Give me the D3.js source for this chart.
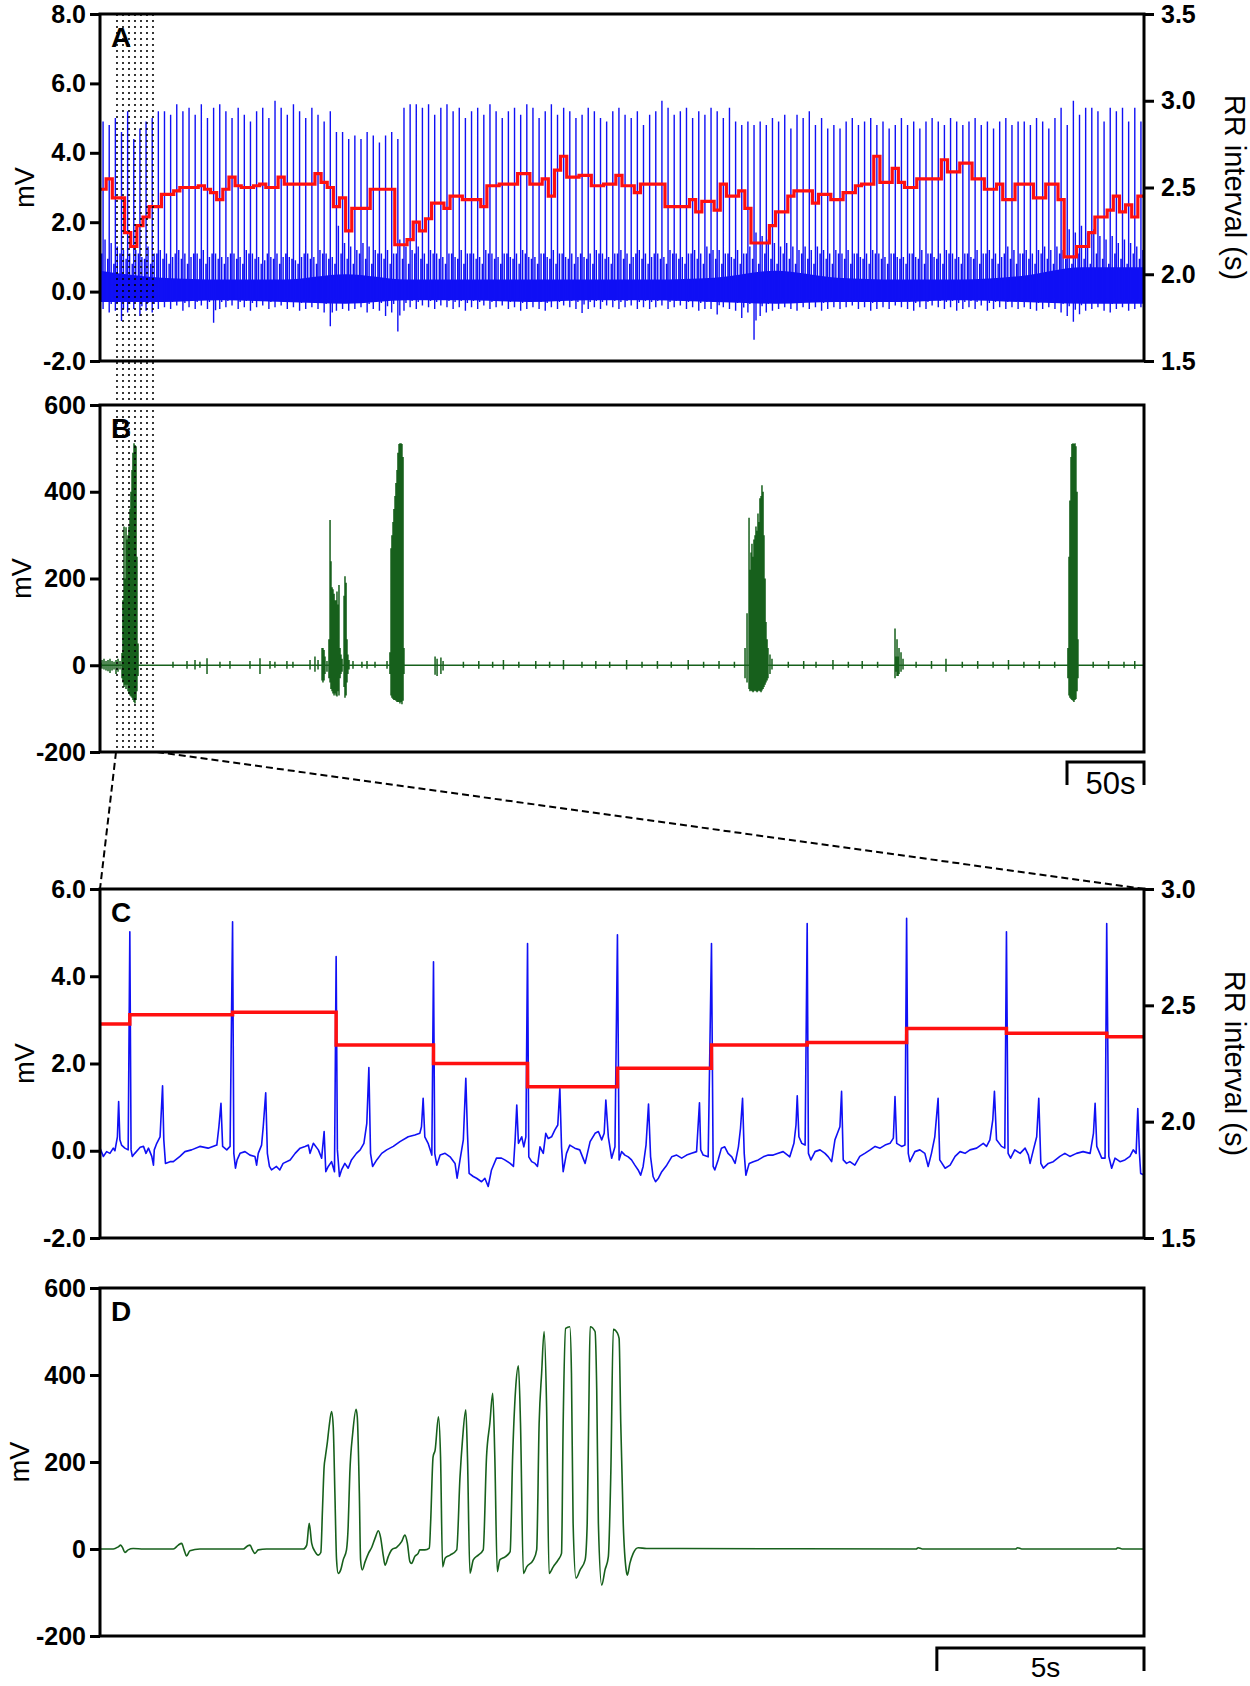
<!DOCTYPE html>
<html>
<head>
<meta charset="utf-8">
<script src="https://cdn.jsdelivr.net/npm/d3@7"></script>
<style>
  body { margin: 0; background: #fff; }
  svg text { font-family: "Liberation Sans", Arial, sans-serif; }
</style>
</head>
<body>
<script>
// ---- panel A: long ECG record, one entry per beat (mV) and RR interval (s)
const aPeak = [
  4.9, 4.8, 5.0, 4.6, 5.2, 4.4, 4.7, 4.9, 5.0, 5.2,
  5.2, 5.1, 5.4, 5.2, 5.3, 5.1, 5.4, 5.0, 5.3, 5.4,
  5.2, 5.0, 5.3, 5.1, 4.9, 5.2, 5.3, 5.0, 5.5, 5.3,
  5.1, 5.4, 5.2, 5.0, 5.3, 5.1, 4.9, 5.2, 4.6, 4.6,
  4.4, 4.5, 4.4, 4.6, 4.5, 4.3, 4.5, 4.6, 4.4, 5.3,
  5.4, 5.4, 5.3, 5.4, 5.1, 5.3, 5.4, 5.2, 5.3, 5.0,
  5.2, 5.3, 5.1, 5.4, 5.2, 5.0, 5.2, 5.3, 5.1, 5.4,
  5.3, 5.0, 5.2, 5.4, 5.1, 5.3, 5.2, 5.0, 5.1, 5.3,
  5.2, 5.0, 4.9, 5.2, 5.3, 5.1, 5.0, 5.2, 4.8, 5.1,
  5.2, 5.5, 5.3, 5.1, 5.2, 5.3, 5.0, 5.2, 5.1, 5.3,
  5.2, 5.0, 5.3, 4.9, 4.8, 4.9, 4.8, 4.9, 4.8, 5.0,
  4.9, 5.1, 4.7, 5.1, 5.0, 5.2, 4.8, 5.0, 4.7, 4.8,
  4.7, 4.9, 5.0, 4.8, 4.9, 5.0, 4.8, 4.9, 4.7, 4.8,
  5.0, 4.8, 4.9, 4.7, 4.9, 5.0, 4.9, 4.8, 5.0, 4.9,
  4.8, 4.9, 5.0, 4.8, 4.9, 4.7, 4.9, 5.0, 4.8, 4.9,
  4.9, 4.8, 5.0, 4.9, 4.7, 5.0, 5.3, 4.8, 5.5, 5.1,
  5.3, 5.3, 5.2, 4.9, 5.3, 5.2, 5.3, 4.9, 5.3, 4.9
]
const aTrough = [
  -0.5, -0.6, -0.55, -0.85, -0.6, -0.5, -0.7, -0.55, -0.6, -0.5,
  -0.45, -0.5, -0.4, -0.55, -0.45, -0.5, -0.4, -0.5, -0.9, -0.5,
  -0.45, -0.4, -0.5, -0.45, -0.55, -0.45, -0.4, -0.5, -0.45, -0.4,
  -0.5, -0.45, -0.55, -0.5, -0.45, -0.5, -0.6, -1.0, -0.55, -0.5,
  -0.55, -0.5, -0.45, -0.6, -0.5, -0.55, -0.7, -0.6, -1.15, -0.55,
  -0.45, -0.5, -0.4, -0.45, -0.5, -0.4, -0.45, -0.5, -0.45, -0.55,
  -0.45, -0.5, -0.4, -0.5, -0.45, -0.4, -0.5, -0.45, -0.55, -0.5,
  -0.45, -0.5, -0.55, -0.45, -0.5, -0.4, -0.45, -0.5, -0.62, -0.5,
  -0.45, -0.5, -0.4, -0.45, -0.5, -0.45, -0.4, -0.5, -0.45, -0.5,
  -0.45, -0.4, -0.5, -0.45, -0.4, -0.5, -0.45, -0.55, -0.5, -0.5,
  -0.66, -0.45, -0.5, -0.55, -0.76, -0.6, -1.39, -0.7, -0.6, -0.55,
  -0.5, -0.45, -0.5, -0.55, -0.45, -0.5, -0.45, -0.55, -0.5, -0.45,
  -0.5, -0.45, -0.4, -0.5, -0.45, -0.55, -0.5, -0.45, -0.5, -0.4,
  -0.45, -0.5, -0.55, -0.45, -0.5, -0.4, -0.45, -0.5, -0.45, -0.55,
  -0.5, -0.45, -0.5, -0.4, -0.55, -0.5, -0.45, -0.5, -0.45, -0.5,
  -0.45, -0.5, -0.55, -0.5, -0.45, -0.5, -0.6, -0.7, -0.87, -0.65,
  -0.55, -0.5, -0.45, -0.55, -0.6, -0.5, -0.45, -0.55, -0.5, -0.45
]
const aT = [
  1.5, 1.4, 1.3, 1.2, 1.1, 1.2, 1.0, 1.3, 1.1, 1.2,
  1.1, 1.0, 1.2, 1.1, 1.0, 1.1, 1.2, 1.0, 1.1, 1.0,
  1.0, 1.1, 1.0, 1.2, 1.1, 1.0, 0.9, 1.0, 1.1, 1.0,
  1.0, 0.9, 1.0, 1.1, 1.0, 1.2, 1.1, 1.0, 1.9, 1.4,
  1.3, 1.2, 1.4, 1.3, 1.2, 1.1, 1.2, 1.1, 1.5, 1.3,
  1.2, 1.3, 1.1, 1.2, 1.1, 1.0, 1.1, 1.0, 1.2, 1.1,
  1.1, 1.0, 1.2, 1.1, 1.0, 1.1, 1.0, 1.1, 1.2, 1.0,
  1.0, 1.1, 1.0, 1.2, 1.1, 1.0, 1.1, 1.0, 1.0, 1.1,
  1.2, 1.1, 1.0, 1.1, 1.2, 1.1, 1.0, 1.2, 1.1, 1.0,
  1.1, 1.0, 1.2, 1.1, 1.0, 1.1, 1.2, 1.1, 1.3, 1.2,
  1.2, 1.1, 1.0, 1.2, 1.1, 1.3, 1.7, 1.6, 1.5, 1.4,
  1.3, 1.4, 1.3, 1.2, 1.3, 1.2, 1.3, 1.2, 1.1, 1.2,
  1.1, 1.2, 1.1, 1.0, 1.1, 1.2, 1.1, 1.0, 1.1, 1.0,
  1.0, 1.1, 1.0, 1.2, 1.1, 1.0, 1.1, 1.2, 1.1, 1.0,
  1.1, 1.0, 1.2, 1.1, 1.2, 1.1, 1.0, 1.3, 1.2, 1.1,
  1.2, 1.1, 1.2, 1.3, 1.2, 1.3, 1.2, 1.8, 1.7, 1.9,
  1.7, 1.8, 1.6, 1.5, 1.6, 1.4, 1.5, 1.4, 1.3, 1.2
]
const aRR = [
  2.49, 2.55, 2.44, 2.44, 2.24, 2.16, 2.28, 2.33, 2.39, 2.39,
  2.46, 2.46, 2.48, 2.50, 2.50, 2.50, 2.51, 2.49, 2.47, 2.43,
  2.49, 2.56, 2.51, 2.50, 2.50, 2.51, 2.52, 2.50, 2.50, 2.56,
  2.52, 2.52, 2.52, 2.52, 2.52, 2.58, 2.53, 2.50, 2.39, 2.44,
  2.25, 2.38, 2.38, 2.38, 2.49, 2.49, 2.49, 2.49, 2.17, 2.17,
  2.20, 2.30, 2.25, 2.32, 2.41, 2.41, 2.38, 2.45, 2.45, 2.43,
  2.43, 2.43, 2.39, 2.51, 2.51, 2.52, 2.52, 2.52, 2.58, 2.58,
  2.52, 2.52, 2.55, 2.45, 2.60, 2.68, 2.56, 2.56, 2.57, 2.57,
  2.51, 2.51, 2.52, 2.52, 2.57, 2.51, 2.51, 2.47, 2.52, 2.52,
  2.52, 2.52, 2.39, 2.39, 2.39, 2.39, 2.43, 2.36, 2.42, 2.42,
  2.37, 2.52, 2.45, 2.45, 2.48, 2.38, 2.18, 2.18, 2.18, 2.28,
  2.36, 2.36, 2.45, 2.48, 2.48, 2.48, 2.41, 2.46, 2.46, 2.43,
  2.43, 2.47, 2.47, 2.51, 2.52, 2.52, 2.68, 2.53, 2.53, 2.61,
  2.53, 2.50, 2.50, 2.55, 2.55, 2.55, 2.55, 2.66, 2.59, 2.59,
  2.64, 2.64, 2.55, 2.55, 2.49, 2.49, 2.52, 2.43, 2.43, 2.52,
  2.52, 2.52, 2.44, 2.44, 2.52, 2.52, 2.43, 2.10, 2.10, 2.16,
  2.16, 2.24, 2.33, 2.33, 2.37, 2.45, 2.36, 2.40, 2.33, 2.45
]
// dense low-amplitude band, one value per 10 beats
const aBandHi = [0.6, 0.4, 0.35, 0.35, 0.5, 0.35, 0.35, 0.35, 0.35, 0.35, 0.4, 0.6, 0.4, 0.35, 0.35, 0.45, 0.7]
const aBandLo = [-0.3, -0.3, -0.25, -0.3, -0.35, -0.25, -0.25, -0.3, -0.25, -0.25, -0.3, -0.35, -0.3, -0.3, -0.25, -0.3, -0.35]
const aPwave = 1.1

// ---- panel B: [time s, high mV, low mV] of each deflection
const bDuration = 678
const bSpikes = [
  [0.3, 6, -5], [1.3, 12, -8], [2.6, 15, -10], [3.9, 10, -12], [5.2, 12, -14], [6.5, 15, -18],
  [7.8, 10, -12], [9.1, 8, -10], [10.4, 12, -20], [11.7, 15, -15], [13.0, 10, -10], [14.3, 28, -30],
  [14.9, 150, -40], [15.6, 320, -50], [16.2, 200, -45], [16.9, 318, -55], [17.5, 290, -45],
  [18.2, 300, -60], [18.8, 320, -65], [19.5, 360, -70], [20.1, 400, -72], [20.8, 450, -75],
  [21.4, 490, -80], [22.1, 512, -85], [22.7, 508, -88], [23.4, 505, -80], [24.0, 250, -60], [24.7, 50, -25],
  [47.4, 8, -6], [56.5, 10, -8], [61.7, 12, -10], [64.9, 8, -6], [69.5, 16, -20], [77.9, 8, -6],
  [84.4, 10, -8], [97.4, 10, -8], [103.9, 16, -20], [110.4, 10, -8], [113.6, 8, -6], [121.4, 10, -8],
  [125.3, 8, -6], [136.4, 12, -10], [139.6, 20, -15], [141.6, 12, -10],
  [144.2, 40, -35], [144.8, 40, -40], [145.5, 35, -35], [146.1, 20, -20], [147.4, 10, -15], [148.7, 60, -30],
  [149.4, 335, -40], [150.0, 240, -55], [150.7, 180, -60], [151.3, 175, -65], [152.0, 165, -70],
  [152.6, 150, -65], [153.3, 150, -70], [153.9, 170, -72], [154.6, 140, -60], [155.2, 185, -70],
  [155.9, 40, -30], [156.5, 25, -20], [157.2, 15, -15],
  [158.5, 160, -50], [159.1, 205, -75], [159.8, 190, -70], [160.4, 60, -40], [161.0, 25, -20], [161.7, 12, -10],
  [164.3, 10, -8], [170.1, 8, -6], [173.4, 10, -8], [178.6, 8, -6], [186.4, 10, -8],
  [188.3, 30, -20], [189.0, 270, -70], [189.6, 300, -75], [190.3, 330, -78], [190.9, 360, -80],
  [191.6, 390, -80], [192.2, 420, -82], [192.9, 450, -85], [193.5, 490, -85], [194.2, 510, -85],
  [194.8, 512, -88], [195.5, 512, -85], [196.1, 510, -90], [196.8, 480, -82], [197.4, 40, -20],
  [217.6, 20, -22], [218.9, 15, -25], [221.4, 18, -20], [222.8, 10, -12],
  [236, 8, -6], [246, 10, -8], [255, 8, -6], [262, 12, -10], [272, 8, -6], [283, 10, -8], [292, 8, -6],
  [301, 12, -10], [313, 8, -6], [322, 10, -8], [331, 8, -6], [342, 12, -10], [352, 8, -6], [362, 10, -8],
  [371, 8, -6], [382, 12, -10], [392, 8, -6], [402, 10, -8], [412, 8, -6],
  [418.9, 40, -30], [420.2, 120, -40], [421.5, 340, -55], [422.1, 220, -60], [422.8, 260, -58],
  [423.4, 280, -60], [424.1, 250, -62], [424.7, 290, -60], [425.4, 300, -58], [426.0, 320, -60],
  [426.7, 310, -62], [427.3, 350, -60], [428.0, 330, -58], [428.6, 385, -60], [429.3, 390, -62],
  [429.9, 415, -58], [430.6, 400, -55], [431.2, 300, -50], [431.9, 200, -45], [432.5, 100, -40],
  [433.2, 60, -35], [433.8, 40, -30], [435.1, 25, -20], [436.4, 15, -10],
  [447, 8, -6], [457, 10, -8], [465, 8, -6], [476, 12, -10], [486, 8, -6], [495, 10, -8], [505, 8, -6],
  [516.3, 85, -30], [517.0, 20, -15], [517.6, 60, -25], [518.3, 20, -25], [518.9, 40, -20],
  [520.2, 30, -15], [521.5, 15, -10],
  [530, 8, -6], [540, 10, -8], [549.4, 15, -15], [560, 8, -6], [570, 10, -8], [580, 8, -6],
  [590, 12, -10], [600, 8, -6], [610, 10, -8], [620, 8, -6],
  [628.6, 40, -30], [629.3, 250, -70], [629.9, 380, -75], [630.6, 480, -78], [631.2, 510, -80],
  [631.9, 512, -82], [632.5, 510, -85], [633.2, 512, -80], [633.8, 505, -78], [634.5, 400, -60], [635.1, 60, -30],
  [645, 8, -6], [655, 10, -8], [665, 8, -6], [672, 10, -8]
]
const bWindow = [10.4, 37.0]   // stretch shown in C and D
const bScaleBar = 50

// ---- panel C: [time s, mV] of the ECG, RR steps at each R wave
const cDuration = 25.2
const cTrace = [
  [0, 0.06], [0.08, -0.13], [0.16, -0.02], [0.24, -0.06], [0.32, 0.06], [0.36, 0.0], [0.42, 0.32],
  [0.45, 1.13], [0.48, 0.25], [0.52, 0.13], [0.60, 0.06], [0.68, 0.02], [0.72, 5.02], [0.75, 0.02],
  [0.78, -0.13], [0.84, -0.06], [0.97, 0.08], [1.05, 0.10], [1.11, -0.06], [1.17, 0.06], [1.25, -0.13],
  [1.29, -0.33], [1.31, 0.02], [1.37, 0.17], [1.45, 0.32], [1.51, 1.49], [1.54, 0.25], [1.58, -0.29],
  [1.69, -0.25], [1.77, -0.25], [1.93, -0.13], [2.05, -0.02], [2.21, 0.02], [2.41, 0.10], [2.61, 0.06],
  [2.82, 0.13], [2.87, 0.55], [2.92, 1.09], [2.96, 0.10], [3.06, 0.02], [3.14, 0.10], [3.20, 5.25],
  [3.23, -0.06], [3.27, -0.40], [3.31, -0.21], [3.38, -0.06], [3.50, -0.02], [3.62, -0.10], [3.74, -0.13],
  [3.78, -0.33], [3.82, -0.06], [3.90, 0.13], [3.94, 0.55], [4.00, 1.33], [4.04, -0.06], [4.09, -0.36],
  [4.14, -0.44], [4.26, -0.36], [4.34, -0.44], [4.42, -0.29], [4.59, -0.21], [4.71, -0.06], [4.83, 0.06],
  [4.95, 0.10], [5.03, 0.13], [5.07, -0.06], [5.15, 0.17], [5.27, 0.02], [5.35, -0.17], [5.41, 0.44],
  [5.45, -0.48], [5.51, -0.36], [5.59, -0.25], [5.66, -0.48], [5.70, 4.45], [5.73, 0.02], [5.78, -0.59],
  [5.83, -0.44], [5.91, -0.29], [5.99, -0.40], [6.07, -0.21], [6.19, -0.06], [6.28, 0.02], [6.37, 0.17],
  [6.44, 0.63], [6.49, 1.91], [6.53, -0.06], [6.58, -0.36], [6.68, -0.21], [6.80, -0.06], [6.92, 0.02],
  [7.08, 0.10], [7.24, 0.21], [7.44, 0.32], [7.60, 0.36], [7.72, 0.40], [7.76, 0.55], [7.80, 1.20],
  [7.84, 0.32], [7.92, 0.17], [8.01, -0.10], [8.05, 4.33], [8.08, -0.06], [8.13, -0.33], [8.21, -0.10],
  [8.33, -0.06], [8.45, -0.14], [8.57, -0.29], [8.62, -0.63], [8.69, -0.21], [8.77, 0.25], [8.83, 1.66],
  [8.87, 0.40], [8.91, -0.52], [9.01, -0.59], [9.09, -0.63], [9.21, -0.71], [9.29, -0.63], [9.37, -0.82],
  [9.45, -0.44], [9.57, -0.17], [9.69, -0.17], [9.77, -0.21], [9.90, -0.29], [9.98, -0.36], [10.02, 0.25],
  [10.06, 1.05], [10.10, 0.17], [10.18, 0.32], [10.23, 0.09], [10.28, 0.32], [10.32, 4.75], [10.35, -0.14],
  [10.42, -0.25], [10.50, -0.29], [10.56, -0.36], [10.62, 0.09], [10.70, -0.06], [10.76, 0.40], [10.82, 0.28],
  [10.90, 0.32], [10.98, 0.48], [11.05, 0.59], [11.10, 1.43], [11.14, 0.09], [11.18, -0.48], [11.26, -0.06],
  [11.34, 0.13], [11.46, 0.06], [11.58, 0.02], [11.71, -0.29], [11.83, 0.21], [11.95, 0.40], [12.03, 0.44],
  [12.11, 0.25], [12.17, 0.40], [12.21, 1.16], [12.27, 0.32], [12.35, -0.17], [12.43, 0.09], [12.49, 4.95],
  [12.53, -0.21], [12.59, -0.02], [12.67, -0.10], [12.75, -0.14], [12.83, -0.21], [12.91, -0.33], [12.99, -0.44],
  [13.05, -0.56], [13.11, -0.36], [13.18, 0.13], [13.24, 1.07], [13.29, -0.14], [13.35, -0.59], [13.41, -0.71],
  [13.48, -0.63], [13.56, -0.48], [13.68, -0.33], [13.80, -0.14], [13.92, -0.10], [14.04, -0.17], [14.16, -0.10],
  [14.28, -0.06], [14.40, -0.02], [14.47, 1.10], [14.50, 0.02], [14.56, -0.10], [14.68, -0.14], [14.76, 4.75],
  [14.80, -0.36], [14.84, -0.44], [14.92, -0.21], [15.00, 0.06], [15.08, 0.09], [15.16, -0.06], [15.25, -0.14],
  [15.33, -0.29], [15.41, 0.09], [15.46, 0.51], [15.51, 1.20], [15.55, -0.06], [15.59, -0.56], [15.67, -0.29],
  [15.77, -0.25], [15.89, -0.21], [16.01, -0.14], [16.13, -0.10], [16.25, -0.10], [16.37, -0.06], [16.49, -0.02],
  [16.65, -0.14], [16.75, 0.17], [16.80, 0.59], [16.83, 1.26], [16.87, 0.32], [16.94, 0.17], [17.02, 0.13],
  [17.07, 5.21], [17.10, -0.06], [17.16, -0.21], [17.26, -0.02], [17.38, 0.02], [17.50, -0.06], [17.58, -0.14],
  [17.66, -0.25], [17.74, 0.25], [17.80, 0.40], [17.86, 0.55], [17.90, 1.36], [17.94, -0.21], [18.02, -0.29],
  [18.10, -0.25], [18.22, -0.33], [18.34, -0.13], [18.46, -0.06], [18.59, 0.02], [18.71, 0.10], [18.83, 0.06],
  [18.95, 0.13], [19.07, 0.17], [19.15, 0.29], [19.19, 1.24], [19.23, 0.17], [19.35, 0.10], [19.43, 0.13],
  [19.47, 5.33], [19.51, -0.06], [19.55, -0.25], [19.67, -0.02], [19.79, 0.02], [19.91, -0.06], [19.99, -0.36],
  [20.07, -0.06], [20.15, 0.32], [20.23, 1.20], [20.27, -0.21], [20.40, -0.40], [20.52, -0.33], [20.64, -0.13],
  [20.76, -0.02], [20.88, -0.06], [21.00, 0.02], [21.16, 0.06], [21.32, 0.17], [21.40, 0.10], [21.48, 0.25],
  [21.55, 0.71], [21.59, 1.36], [21.64, 0.25], [21.76, 0.10], [21.84, 0.06], [21.88, 5.02], [21.92, -0.06],
  [21.98, -0.17], [22.08, 0.02], [22.21, -0.06], [22.33, 0.06], [22.41, -0.10], [22.45, -0.29], [22.53, 0.02],
  [22.61, 0.32], [22.66, 1.20], [22.71, -0.29], [22.77, -0.40], [22.89, -0.29], [23.01, -0.25], [23.17, -0.13],
  [23.29, -0.06], [23.41, -0.13], [23.57, -0.06], [23.73, -0.02], [23.90, -0.06], [23.98, 0.40], [24.02, 1.09],
  [24.06, 0.10], [24.18, -0.17], [24.26, -0.17], [24.30, 5.21], [24.35, -0.13], [24.42, -0.40], [24.50, -0.17],
  [24.62, -0.25], [24.74, -0.21], [24.86, -0.13], [24.94, 0.02], [25.01, -0.06], [25.05, 0.97], [25.09, -0.06],
  [25.12, -0.52], [25.19, -0.55]
]
const cBeatT = [0.72, 3.20, 5.70, 8.05, 10.32, 12.49, 14.76, 17.07, 19.47, 21.88, 24.30]
const cRR = [2.42, 2.46, 2.47, 2.33, 2.25, 2.15, 2.23, 2.33, 2.34, 2.40, 2.38, 2.365]

// ---- panel D: [time s, mV], same window as C
const dTrace = [
  [0, 0], [0.32, 0], [0.44, 5], [0.50, 9], [0.55, 2], [0.60, -8], [0.68, -2], [0.80, 1], [1.05, 0],
  [1.77, 0], [1.89, 9], [1.97, 13], [2.03, -2], [2.09, -16], [2.17, -4], [2.41, 0], [3.46, 0], [3.56, 7],
  [3.62, 9], [3.68, -2], [3.74, -10], [3.82, -2], [4.02, 0], [4.91, 0], [4.99, 9], [5.05, 59], [5.11, 13],
  [5.19, -6], [5.27, -14], [5.33, -8], [5.37, 90], [5.41, 189], [5.44, 212], [5.49, 247], [5.53, 281],
  [5.59, 316], [5.63, 281], [5.67, 128], [5.71, -25], [5.75, -56], [5.81, -48], [5.87, -25], [5.95, -2],
  [5.99, 51], [6.03, 174], [6.10, 266], [6.18, 321], [6.21, 304], [6.26, 128], [6.29, -25], [6.33, -48],
  [6.40, -29], [6.48, -10], [6.56, 4], [6.64, 25], [6.72, 42], [6.77, 28], [6.84, -17], [6.88, -37],
  [6.96, -17], [7.04, -2], [7.16, 4], [7.28, 17], [7.36, 32], [7.42, 13], [7.48, -29], [7.52, -33],
  [7.60, -17], [7.68, -10], [7.72, -2], [7.84, -2], [7.95, 2], [7.98, 59], [8.04, 212], [8.09, 228],
  [8.17, 304], [8.22, 212], [8.27, -41], [8.33, -21], [8.45, -14], [8.61, -2], [8.69, 166], [8.75, 251],
  [8.83, 320], [8.87, 212], [8.93, -56], [9.01, -25], [9.13, -14], [9.25, -2], [9.33, 212], [9.41, 289],
  [9.48, 358], [9.53, 212], [9.59, -52], [9.65, -25], [9.78, -18], [9.90, -6], [9.96, 212], [10.03, 365],
  [10.10, 421], [10.15, 289], [10.22, -56], [10.30, -41], [10.46, -25], [10.54, -2], [10.60, 289],
  [10.66, 404], [10.72, 500], [10.78, 327], [10.84, -56], [10.94, -41], [11.06, -25], [11.14, -10],
  [11.18, 289], [11.24, 507], [11.34, 511], [11.38, 404], [11.42, 59], [11.49, -67], [11.59, -48],
  [11.71, -25], [11.76, 59], [11.80, 327], [11.83, 511], [11.95, 500], [11.99, 365], [12.03, 59],
  [12.11, -83], [12.19, -48], [12.27, -18], [12.33, 174], [12.39, 505], [12.49, 496], [12.53, 484],
  [12.57, 289], [12.63, 59], [12.70, -48], [12.73, -60], [12.79, -33], [12.87, -10], [12.99, 3],
  [13.19, 1], [14.0, 1], [19.70, 0], [19.75, 3], [19.85, 0], [22.10, 0], [22.15, 3], [22.25, 0],
  [24.52, 0], [24.57, 3], [24.67, 0], [25.2, 0]
]
const dScaleBar = 5

// ---- layout
const W = 1250, H = 1686
const left = 100, right = 1144
const pA = { top: 14, bottom: 361 }
const pB = { top: 405, bottom: 752 }
const pC = { top: 889, bottom: 1238 }
const pD = { top: 1288, bottom: 1636 }
const blue = '#1010f5', red = '#ff1010', green = '#17601c'

const svg = d3.select('body').append('svg')
  .attr('width', W)
  .attr('height', H)

svg.append('defs').append('pattern')
  .attr('id', 'dots')
  .attr('patternUnits', 'userSpaceOnUse')
  .attr('x', 114).attr('y', 12)
  .attr('width', 6).attr('height', 6)
  .append('circle')
  .attr('cx', 3).attr('cy', 3).attr('r', 1.05)
  .attr('fill', '#000')

function styleAxis(g) {
  g.select('.domain').remove()
  g.selectAll('.tick line').attr('stroke', '#000').attr('stroke-width', 3)
  g.selectAll('.tick text')
    .attr('font-size', 25)
    .attr('font-weight', 'bold')
    .attr('fill', '#000')
}

function leftAxis(scale, ticks, fmt) {
  svg.append('g')
    .attr('transform', 'translate(' + left + ',0)')
    .call(d3.axisLeft(scale).tickValues(ticks).tickFormat(fmt).tickSize(10).tickPadding(4))
    .call(styleAxis)
}

function rightAxis(scale, ticks, fmt) {
  svg.append('g')
    .attr('transform', 'translate(' + right + ',0)')
    .call(d3.axisRight(scale).tickValues(ticks).tickFormat(fmt).tickSize(10).tickPadding(7))
    .call(styleAxis)
}

function box(p) {
  svg.append('rect')
    .attr('x', left).attr('y', p.top)
    .attr('width', right - left).attr('height', p.bottom - p.top)
    .attr('fill', 'none').attr('stroke', '#000').attr('stroke-width', 3)
}

function panelLabel(p, txt) {
  svg.append('text')
    .attr('x', left + 11).attr('y', p.top + 33)
    .attr('font-size', 28).attr('font-weight', 'bold')
    .text(txt)
}

function mvLabel(p, x) {
  svg.append('text')
    .attr('transform', 'translate(' + x + ',' + (p.top + p.bottom) / 2 + ')rotate(-90)')
    .attr('text-anchor', 'middle')
    .attr('font-size', 27)
    .text('mV')
}

function rrLabel(p) {
  svg.append('text')
    .attr('transform', 'translate(1225,' + (p.top + p.bottom) / 2 + ')rotate(90)')
    .attr('text-anchor', 'middle')
    .attr('font-size', 29)
    .text('RR interval (s)')
}

function scaleBar(x0, x1, y, label, size) {
  svg.append('path')
    .attr('d', 'M' + x0 + ',' + (y + 23) + 'V' + y + 'H' + x1 + 'V' + (y + 23))
    .attr('fill', 'none').attr('stroke', '#000').attr('stroke-width', 3)
  svg.append('text')
    .attr('x', (x0 + x1) / 2 + 5).attr('y', y + size + 1)
    .attr('text-anchor', 'middle')
    .attr('font-size', size)
    .text(label)
}

const fmt1 = d => d.toFixed(1)
const fmt0 = d => String(d)

// ---- A
const xA = d3.scaleLinear().domain([0, aPeak.length]).range([left, right])
const yA = d3.scaleLinear().domain([-2, 8]).range([pA.bottom, pA.top])
const yAr = d3.scaleLinear().domain([1.5, 3.5]).range([pA.bottom, pA.top])

let band = aBandLo.map((lo, k) => [k * 10, lo, aBandHi[k]])
band.push([aPeak.length, aBandLo[aBandLo.length - 1], aBandHi[aBandHi.length - 1]])
svg.append('path')
  .datum(band)
  .attr('fill', blue)
  .attr('d', d3.area().curve(d3.curveMonotoneX)
    .x(d => xA(d[0])).y0(d => yA(d[1])).y1(d => yA(d[2])))

let ecg = d3.path()
aPeak.forEach((pk, i) => {
  let xp = xA(i + 0.25), xr = xA(i + 0.5), xt = xA(i + 0.82)
  ecg.moveTo(xp, yA(-0.2)); ecg.lineTo(xp, yA(aPwave - (i % 3) * 0.15))
  ecg.moveTo(xr, yA(aTrough[i])); ecg.lineTo(xr, yA(pk))
  ecg.moveTo(xt, yA(aTrough[i] * 0.6)); ecg.lineTo(xt, yA(aT[i]))
})
svg.append('path')
  .attr('d', ecg.toString())
  .attr('fill', 'none').attr('stroke', blue).attr('stroke-width', 1.4)

let rrPts = aRR.map((v, i) => [i, v])
rrPts.push([aRR.length, aRR[aRR.length - 1]])
svg.append('path')
  .datum(rrPts)
  .attr('fill', 'none').attr('stroke', red).attr('stroke-width', 3.2)
  .attr('d', d3.line().curve(d3.curveStepAfter).x(d => xA(d[0])).y(d => yAr(d[1])))

box(pA)
leftAxis(yA, [-2, 0, 2, 4, 6, 8], fmt1)
rightAxis(yAr, [1.5, 2.0, 2.5, 3.0, 3.5], fmt1)
panelLabel(pA, 'A')
mvLabel(pA, 34)
rrLabel(pA)

// ---- B
const xB = d3.scaleLinear().domain([0, bDuration]).range([left, right])
const yB = d3.scaleLinear().domain([-200, 600]).range([pB.bottom, pB.top])
let emg = d3.path()
emg.moveTo(xB(0), yB(0))
bSpikes.forEach(s => {
  let x = xB(s[0])
  emg.lineTo(x, yB(0)); emg.lineTo(x, yB(s[1])); emg.lineTo(x, yB(s[2])); emg.lineTo(x, yB(0))
})
emg.lineTo(xB(bDuration), yB(0))
svg.append('path')
  .attr('d', emg.toString())
  .attr('fill', 'none').attr('stroke', green).attr('stroke-width', 1.5)

box(pB)
leftAxis(yB, [-200, 0, 200, 400, 600], fmt0)
panelLabel(pB, 'B')
mvLabel(pB, 31)
scaleBar(xB(bDuration - bScaleBar), xB(bDuration), pB.bottom + 10, bScaleBar + 's', 31)

// ---- C
const xC = d3.scaleLinear().domain([0, cDuration]).range([left, right])
const yC = d3.scaleLinear().domain([-2, 6]).range([pC.bottom, pC.top])
const yCr = d3.scaleLinear().domain([1.5, 3.0]).range([pC.bottom, pC.top])

svg.append('path')
  .datum(cTrace)
  .attr('fill', 'none').attr('stroke', blue).attr('stroke-width', 1.6)
  .attr('stroke-linejoin', 'round')
  .attr('d', d3.line().x(d => xC(d[0])).y(d => yC(d[1])))

let cSteps = [[0, cRR[0]]].concat(cBeatT.map((t, i) => [t, cRR[i + 1]]))
cSteps.push([cDuration, cRR[cRR.length - 1]])
svg.append('path')
  .datum(cSteps)
  .attr('fill', 'none').attr('stroke', red).attr('stroke-width', 3.5)
  .attr('d', d3.line().curve(d3.curveStepAfter).x(d => xC(d[0])).y(d => yCr(d[1])))

box(pC)
leftAxis(yC, [-2, 0, 2, 4, 6], fmt1)
rightAxis(yCr, [1.5, 2.0, 2.5, 3.0], fmt1)
panelLabel(pC, 'C')
mvLabel(pC, 34)
rrLabel(pC)

// ---- D
const yD = d3.scaleLinear().domain([-200, 600]).range([pD.bottom, pD.top])
svg.append('path')
  .datum(dTrace)
  .attr('fill', 'none').attr('stroke', green).attr('stroke-width', 1.6)
  .attr('stroke-linejoin', 'round')
  .attr('d', d3.line().curve(d3.curveMonotoneX).x(d => xC(d[0])).y(d => yD(d[1])))

box(pD)
leftAxis(yD, [-200, 0, 200, 400, 600], fmt0)
panelLabel(pD, 'D')
mvLabel(pD, 29)
scaleBar(xC(cDuration - dScaleBar), xC(cDuration), pD.bottom + 12, dScaleBar + 's', 28)

// ---- zoom window on A/B and the lines down to C
svg.append('rect')
  .attr('x', xB(bWindow[0])).attr('y', pA.top)
  .attr('width', xB(bWindow[1]) - xB(bWindow[0]))
  .attr('height', pB.bottom - pA.top)
  .attr('fill', 'url(#dots)')

svg.append('path')
  .attr('d', 'M' + xB(bWindow[0]) + ',' + pB.bottom + 'L' + left + ',' + pC.top +
             'M' + xB(bWindow[1]) + ',' + pB.bottom + 'L' + right + ',' + pC.top)
  .attr('fill', 'none').attr('stroke', '#000').attr('stroke-width', 2)
  .attr('stroke-dasharray', '7,4')
</script>
</body>
</html>
